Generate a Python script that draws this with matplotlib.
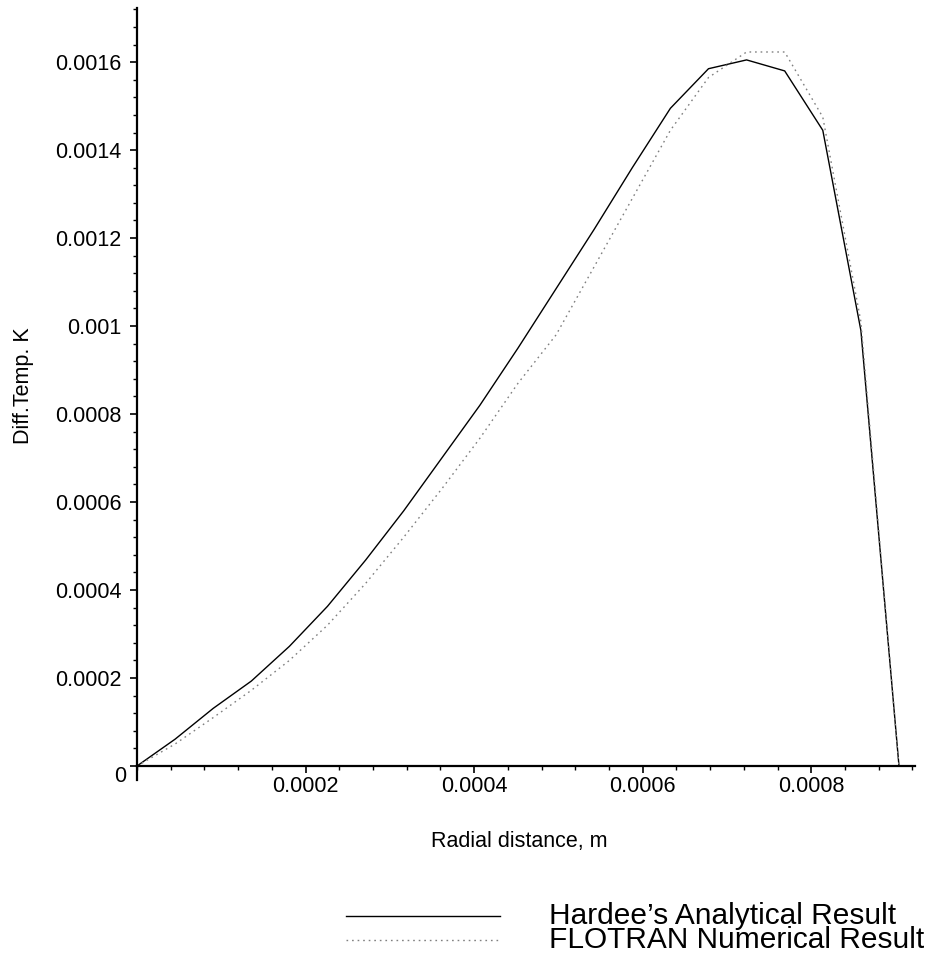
import matplotlib
matplotlib.use("Agg")
import matplotlib.pyplot as plt
from matplotlib.lines import Line2D
from matplotlib.ticker import FixedLocator, MultipleLocator
from matplotlib.transforms import ScaledTranslation

plt.rcParams['font.family'] = ['Liberation Sans', 'DejaVu Sans']

# Radial node positions (m)
radius = [0.0, 0.0000452, 0.0000904, 0.0001356, 0.0001808, 0.000226, 0.0002712,
          0.0003164, 0.0003616, 0.0004068, 0.000452, 0.0004972, 0.0005424,
          0.0005876, 0.0006328, 0.000678, 0.0007232, 0.0007684, 0.0008136,
          0.0008588, 0.000904]

# Temperature difference (K)
hardee = [0.0, 0.000061, 0.000131, 0.000193, 0.000272, 0.000363, 0.000468,
          0.00058, 0.0007, 0.00082, 0.00095, 0.001085, 0.00122, 0.00136,
          0.001495, 0.001585, 0.001605, 0.00158, 0.001445, 0.00099, 0.0]
flotran = [0.0, 0.00005, 0.00011, 0.000172, 0.00024, 0.00032, 0.000415,
           0.00052, 0.00063, 0.000745, 0.00087, 0.00098, 0.001135, 0.00129,
           0.001445, 0.001565, 0.001623, 0.001623, 0.001475, 0.00101, 0.0]

series_names = ["Hardee\u2019s Analytical Result", "FLOTRAN Numerical Result"]

x_ticks = [0.0002, 0.0004, 0.0006, 0.0008]
x_tick_labels = ["0.0002", "0.0004", "0.0006", "0.0008"]
y_ticks = [0.0, 0.0002, 0.0004, 0.0006, 0.0008, 0.001, 0.0012, 0.0014, 0.0016]
y_tick_labels = ["0", "0.0002", "0.0004", "0.0006", "0.0008", "0.001",
                 "0.0012", "0.0014", "0.0016"]

W, H = 932, 957
fig = plt.figure(figsize=(W / 100, H / 100), dpi=100)
ax = fig.add_axes([137 / W, 191 / H, 778 / W, 758 / H])

solid_style = dict(color="black", lw=1.0)
dotted_style = dict(color="#808080", lw=1.0, linestyle=(0, (1.2, 2.8)))

ax.plot(radius, hardee, **solid_style)
ax.plot(radius, flotran, **dotted_style)

ax.set_xlim(0, 0.000923)
ax.set_ylim(0, 0.001723)

for side in ("top", "right"):
    ax.spines[side].set_visible(False)
for side in ("left", "bottom"):
    ax.spines[side].set_linewidth(1.6)

ax.xaxis.set_major_locator(FixedLocator(x_ticks))
ax.set_xticklabels(x_tick_labels)
ax.xaxis.set_minor_locator(MultipleLocator(0.00004))
ax.yaxis.set_major_locator(FixedLocator(y_ticks))
ax.set_yticklabels(y_tick_labels)
ax.yaxis.set_minor_locator(MultipleLocator(0.00004))

ax.tick_params(axis="both", which="major", length=5, width=1.2,
               labelsize=15.5, direction="out")
ax.tick_params(axis="both", which="minor", length=3, width=1.0, direction="out")
ax.tick_params(axis="x", which="major", pad=2)
ax.tick_params(axis="y", which="major", pad=6)

# origin label sits lower and closer to the axis
zero_label = ax.get_yticklabels()[0]
zero_label.set_transform(zero_label.get_transform()
                         + ScaledTranslation(5 / 100, -8 / 100, fig.dpi_scale_trans))

# short stub of the vertical axis below the origin
ax.plot([0, 0], [0, -14 / 440 * 0.001], color="black", lw=1.6, clip_on=False)

fig.text(519 / W, 1 - 842 / H, "Radial distance, m", fontsize=15.5,
         ha="center", va="center")
fig.text(24 / W, 1 - 386 / H, "Diff.Temp. K", fontsize=15.5, rotation=90,
         ha="center", va="center")

# legend block
rows_y = [916, 940]
styles = [solid_style, dotted_style]
for name, yy, st in zip(series_names, rows_y, styles):
    fig.add_artist(Line2D([346 / W, 500 / W], [1 - yy / H, 1 - yy / H], **st))
    fig.text(549 / W, 1 - yy / H, name, fontsize=21.5, ha="left", va="center")

fig.savefig("out.png", dpi=100)
